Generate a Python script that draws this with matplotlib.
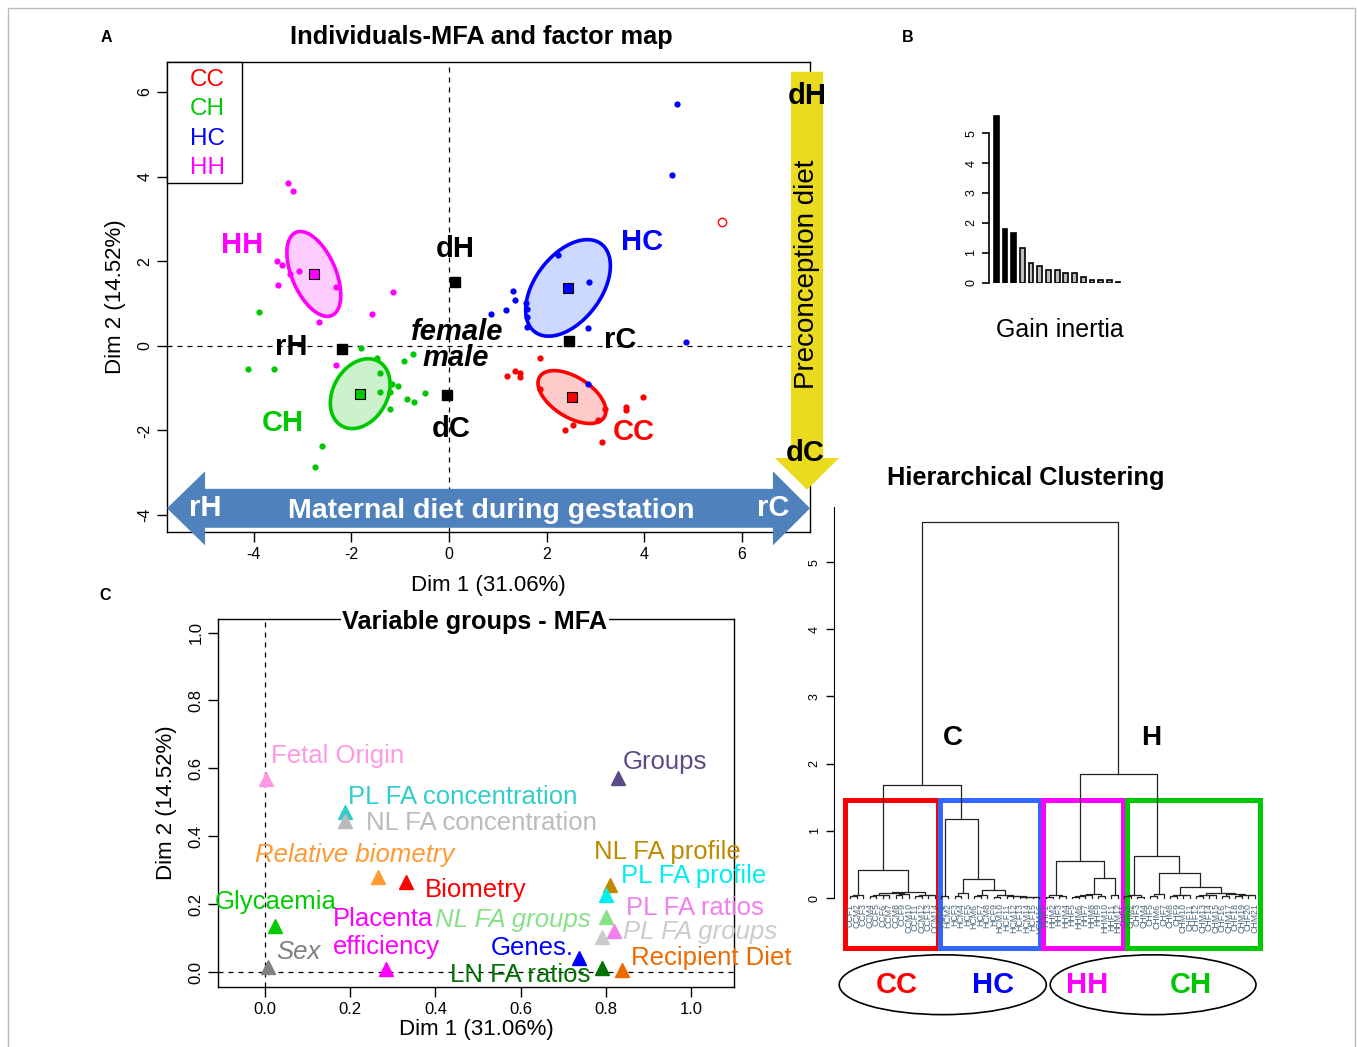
import numpy as np
import matplotlib
matplotlib.use("Agg")
import matplotlib.pyplot as plt
from matplotlib.patches import Polygon, Rectangle, Ellipse

plt.rcParams['font.family'] = ['Liberation Sans', 'DejaVu Sans']
plt.rcParams['axes.unicode_minus'] = False

W, H = 1357, 1047

# ---------------- panel A : individuals ----------------
grp_names = ["CC", "CH", "HC", "HH"]
grp_cols = {"CC": "#FF0000", "CH": "#00C800", "HC": "#0000FF", "HH": "#FF00FF"}
grp_fill = {"CC": "#FFCACA", "CH": "#CCF2CC", "HC": "#CCD8FF", "HH": "#FFCCFF"}

cc_x = [1.86, 1.18, 1.35, 1.45, 1.45, 1.86, 3.19, 3.06, 3.62, 3.62, 3.98, 2.55, 2.38, 3.14]
cc_y = [-0.28, -0.71, -0.60, -0.65, -0.73, -1.03, -1.50, -1.75, -1.44, -1.52, -1.20, -1.88, -2.00, -2.27]
ch_x = [-3.89, -4.12, -3.59, -1.80, -1.47, -0.73, -0.92, -1.42, -1.16, -1.04, -1.42, -1.21,
        -1.20, -0.87, -0.71, -0.50, -2.60, -2.75]
ch_y = [0.80, -0.54, -0.54, -0.06, -0.28, -0.19, -0.35, -0.65, -0.91, -0.95, -1.08, -1.08,
        -1.49, -1.26, -1.32, -1.11, -2.36, -2.86]
hc_x = [4.68, 4.58, 4.85, 2.87, 2.23, 1.31, 1.35, 1.16, 0.87, 1.58, 1.59, 1.59, 1.59, 2.85, 2.85]
hc_y = [5.72, 4.03, 0.08, 1.51, 2.15, 1.30, 1.09, 0.85, 0.75, 1.02, 0.88, 0.68, 0.44, 0.42, -0.91]
hh_x = [-3.30, -3.20, -3.53, -3.42, -3.25, -3.08, -3.51, -2.31, -1.15, -1.58, -2.67, -2.32]
hh_y = [3.85, 3.66, 2.00, 1.91, 1.69, 1.78, 1.44, 1.38, 1.28, 0.75, 0.56, -0.45]
pts = {"CC": (cc_x, cc_y), "CH": (ch_x, ch_y), "HC": (hc_x, hc_y), "HH": (hh_x, hh_y)}

centroid = {"CC": (2.52, -1.21), "CH": (-1.82, -1.13), "HC": (2.44, 1.37), "HH": (-2.77, 1.70)}
# confidence ellipses: major / minor semi-axis vectors (data units)
ell_major = {"CC": (0.66, -0.48), "CH": (0.38, 0.76), "HC": (0.68, 1.04), "HH": (-0.37, 0.98)}
ell_minor = {"CC": (0.22, 0.40), "CH": (0.48, -0.32), "HC": (0.54, -0.47), "HH": (0.41, 0.21)}

outlier_x, outlier_y = [5.59], [2.93]   # hollow red point

sup_names = ["dH", "rH", "rC", "dC"]
sup_x = [0.12, -2.19, 2.46, -0.04]
sup_y = [1.51, -0.07, 0.12, -1.16]

# ---------------- panel B : inertia gain ----------------
inertia = [5.58, 1.80, 1.67, 1.15, 0.65, 0.56, 0.42, 0.42, 0.31, 0.31, 0.20, 0.09, 0.09, 0.09, 0.04]

# ---------------- panel C : variable groups ----------------
var_names = ["Fetal Origin", "Groups", "PL FA concentration", "NL FA concentration",
             "Relative biometry", "Biometry", "Glycaemia", "Sex", "Placenta\nefficiency",
             "NL FA groups", "Genes.", "LN FA ratios", "Recipient Diet", "NL FA profile",
             "PL FA profile", "PL FA ratios", "PL FA groups"]
var_x = [0.003, 0.827, 0.187, 0.187, 0.266, 0.332, 0.024, 0.007, 0.285,
         0.800, 0.737, 0.790, 0.837, 0.810, 0.800, 0.818, 0.790]
var_y = [0.569, 0.571, 0.471, 0.444, 0.279, 0.266, 0.137, 0.015, 0.008,
         0.161, 0.040, 0.013, 0.005, 0.257, 0.227, 0.122, 0.102]
var_cols = ["#FF99E6", "#5C4A86", "#33CCCC", "#BBBBBB", "#FF9933", "#FF0000", "#00CC00",
            "#808080", "#FF00FF", "#88E088", "#0000FF", "#007000", "#EE6A00", "#C08A00",
            "#00EEEE", "#F080F0", "#CCCCCC"]
var_italic = [False, False, False, False, True, False, False, True, False,
              True, False, False, False, False, False, False, True]
# label anchor (left edge, vertical centre)
lab_x = [0.015, 0.840, 0.195, 0.238, -0.024, 0.376, -0.118, 0.026, 0.160,
         0.400, 0.530, 0.433, 0.859, 0.772, 0.835, 0.847, 0.840]
lab_y = [0.635, 0.620, 0.515, 0.440, 0.344, 0.241, 0.206, 0.059, 0.114,
         0.153, 0.070, -0.009, 0.041, 0.353, 0.282, 0.188, 0.118]

# ---------------- panel D : hierarchical clustering ----------------
CC_tree = (0.42,
           (0.05, (0.03, "CCF1", "CCM2"), "CCF3"),
           (0.09,
            (0.07, (0.05, (0.03, "CCM4", "CCF5"), (0.04, "CCF6", "CCM7")),
             (0.06, (0.04, "CCM8", "CCF9"), "CCM10")),
            (0.05, (0.03, "CCF11", "CCM12"), (0.04, "CCF13", "CCM14"))))
HC_tree = (1.17, (0.03, "HCF1", "HCM2"),
           (0.28, (0.08, (0.03, "HCF3", "HCM4"), "HCF5"),
            (0.12, (0.05, (0.03, "HCM6", "HCF7"), "HCM8"),
             (0.04, (0.02, "HCF9", "HCM10"),
              (0.03, "HCF11", (0.025, "HCM12", (0.02, "HCF13",
                                                 (0.02, "HCM14", (0.015, "HCF15", "HCM16")))))))))
HH_tree = (0.55, (0.04, (0.02, "HHF1", "HHM2"), (0.03, "HHF3", "HHM4")),
           (0.30, (0.06, (0.04, (0.03, (0.02, "HHF5", "HHM6"), "HHF7"), "HHM8"),
                   (0.03, "HHF9", "HHM10")),
            (0.05, "HHF11", "HHM12")))
CH_tree = (0.63, (0.05, (0.03, "CHF1", "CHM2"), (0.02, "CHF3", "CHM4")),
           (0.375, (0.06, (0.03, "CHF5", "CHM6"), "CHF7"),
            (0.17, (0.05, (0.03, "CHM8", "CHF9"), (0.04, "CHM10", "CHF11")),
             (0.08, (0.05, (0.03, "CHF12", "CHM13"), (0.04, "CHF14", "CHM15")),
              (0.06, (0.03, "CHF16", "CHM17"),
               (0.05, (0.03, "CHF18", "CHM19"), (0.04, "CHF20", "CHM21")))))))
tree = (5.59, (1.68, CC_tree, HC_tree), (1.85, HH_tree, CH_tree))
box_names = ["CC", "HC", "HH", "CH"]
box_cols = ["#FF0000", "#3366FF", "#FF00FF", "#00C800"]
box_left = [-0.77, 13.78, 29.56, 42.40]
box_right = [13.48, 29.10, 41.80, 62.80]


def px(x, y):
    return x / W, 1 - y / H


def r_axes(ax):
    for s in ax.spines.values():
        s.set_linewidth(1.0)
    ax.tick_params(direction="out", length=7, width=1, colors="black")


fig = plt.figure(figsize=(W / 100, H / 100), dpi=100)
fig.patches.append(Rectangle((8 / W, -0.01), (1355 - 8) / W, 1 - 8 / H + 0.01,
                             transform=fig.transFigure, fill=False, edgecolor="#BBBBBB", lw=1))

# ================= panel A =================
axA = fig.add_axes([167 / W, 1 - 532 / H, (810 - 167) / W, (532 - 62) / H])
r_axes(axA)
axA.set_xlim(-5.78, 7.40)
axA.set_ylim(-4.40, 6.71)
axA.set_xticks([-4, -2, 0, 2, 4, 6])
axA.set_yticks([-4, -2, 0, 2, 4, 6])
axA.tick_params(labelsize=11.5)
for lab in axA.get_yticklabels():
    lab.set_rotation(90)
    lab.set_va("center")
axA.axhline(0, color="black", lw=0.9, ls=(0, (4, 4)), zorder=1)
axA.axvline(0, color="black", lw=0.9, ls=(0, (4, 4)), zorder=1)

t = np.linspace(0, 2 * np.pi, 200)
for g in grp_names:
    cx, cy = centroid[g]
    ex = cx + ell_major[g][0] * np.cos(t) + ell_minor[g][0] * np.sin(t)
    ey = cy + ell_major[g][1] * np.cos(t) + ell_minor[g][1] * np.sin(t)
    axA.fill(ex, ey, facecolor=grp_fill[g], edgecolor=grp_cols[g], lw=2.6, zorder=2)
    axA.plot(pts[g][0], pts[g][1], "o", color=grp_cols[g], ms=4.5, mec="none", zorder=3)
    axA.plot([cx], [cy], "s", color=grp_cols[g], ms=7, mec="black", mew=0.8, zorder=4)
axA.plot(outlier_x, outlier_y, "o", mfc="none", mec="#FF0000", ms=6, mew=1, zorder=3)
axA.plot(sup_x, sup_y, "s", color="black", ms=7, zorder=4)

lab_fs = 21
axA.text(-4.24, 2.38, "HH", color=grp_cols["HH"], fontsize=lab_fs, fontweight="bold", ha="center", va="center")
axA.text(3.95, 2.46, "HC", color=grp_cols["HC"], fontsize=lab_fs, fontweight="bold", ha="center", va="center")
axA.text(-3.40, -1.82, "CH", color=grp_cols["CH"], fontsize=lab_fs, fontweight="bold", ha="center", va="center")
axA.text(3.79, -2.03, "CC", color=grp_cols["CC"], fontsize=lab_fs, fontweight="bold", ha="center", va="center")
sup_lab = {"dH": (0.12, 2.29), "rH": (-3.24, -0.02), "rC": (3.50, 0.14), "dC": (0.04, -1.96)}
for n in sup_names:
    axA.text(*sup_lab[n], n, color="black", fontsize=lab_fs, fontweight="bold", ha="center", va="center", zorder=5)
axA.text(0.16, 0.33, "female", fontsize=lab_fs, fontweight="bold", style="italic", ha="center", va="center", zorder=5)
axA.text(0.14, -0.28, "male", fontsize=lab_fs, fontweight="bold", style="italic", ha="center", va="center", zorder=5)

# legend box (R style: coloured text only)
fig.patches.append(Rectangle(px(167, 183), 75 / W, 121 / H, transform=fig.transFigure,
                             facecolor="white", edgecolor="black", lw=1, zorder=5))
for i, g in enumerate(grp_names):
    fig.text(*px(190, 80 + 29.3 * i), g, color=grp_cols[g], fontsize=17.5,
             ha="left", va="center", zorder=6)

# yellow arrow : preconception diet
xc, hw, hhw, ytop, ybase, ytip = 7.34, 0.33, 0.66, 6.48, -2.65, -3.40
axA.add_patch(Polygon([(xc - hw, ytop), (xc + hw, ytop), (xc + hw, ybase), (xc + hhw, ybase),
                       (xc, ytip), (xc - hhw, ybase), (xc - hw, ybase)],
                      closed=True, facecolor="#EADB1E", edgecolor="none", clip_on=False, zorder=6))
axA.text(xc, 1.68, "Preconception diet", rotation=90, fontsize=20, ha="center", va="center", zorder=7)
axA.text(xc, 5.91, "dH", fontsize=lab_fs, fontweight="bold", ha="center", va="center", zorder=7)
axA.text(7.30, -2.53, "dC", fontsize=lab_fs, fontweight="bold", ha="center", va="center", zorder=7)

# blue double arrow : maternal diet during gestation
xl, xlb, xrb, xr, yc, hs, hh = -5.78, -5.0, 6.64, 7.40, -3.84, 0.46, 0.875
axA.add_patch(Polygon([(xl, yc), (xlb, yc + hh), (xlb, yc + hs), (xrb, yc + hs), (xrb, yc + hh),
                       (xr, yc), (xrb, yc - hh), (xrb, yc - hs), (xlb, yc - hs), (xlb, yc - hh)],
                      closed=True, facecolor="#4F81BD", edgecolor="none", clip_on=False, zorder=6))
axA.text(0.86, -3.90, "Maternal diet during gestation", color="white", fontsize=20.5,
         fontweight="bold", ha="center", va="center", zorder=7)
axA.text(-5.0, -3.83, "rH", color="white", fontsize=lab_fs, fontweight="bold", ha="center", va="center", zorder=7)
axA.text(6.64, -3.83, "rC", color="white", fontsize=lab_fs, fontweight="bold", ha="center", va="center", zorder=7)

axA.set_xlabel("Dim 1 (31.06%)", fontsize=16, labelpad=10)
axA.set_ylabel("Dim 2 (14.52%)", fontsize=16, labelpad=8)
fig.text(*px(481, 37), "Individuals-MFA and factor map", fontsize=18.3, fontweight="bold", ha="center", va="center")

# ================= panel B =================
axB = fig.add_axes([989.3 / W, 1 - 282.7 / H, (1125 - 989.3) / W, (282.7 - 112.3) / H])
axB.set_xlim(-0.8, 14.8)
axB.set_ylim(0, 5.7)
bar_cols = ["black"] * 3 + ["#BEBEBE"] * (len(inertia) - 3)
axB.bar(range(len(inertia)), inertia, width=0.55, color=bar_cols, edgecolor="black", lw=1.2)
for s in ["top", "right", "bottom"]:
    axB.spines[s].set_visible(False)
axB.spines["left"].set_bounds(0, 5)
axB.spines["left"].set_linewidth(1.2)
axB.set_xticks([])
axB.set_yticks(range(6))
axB.tick_params(axis="y", direction="out", length=5, width=1.2, labelsize=9)
for lab in axB.get_yticklabels():
    lab.set_rotation(90)
    lab.set_va("center")
fig.text(*px(1060, 330), "Gain inertia", fontsize=18, ha="center", va="center")

# ================= panel C =================
axC = fig.add_axes([218 / W, 1 - 987 / H, (734 - 218) / W, (987 - 619) / H])
r_axes(axC)
axC.set_xlim(-0.11, 1.10)
axC.set_ylim(-0.044, 1.04)
axC.set_xticks(np.arange(0, 1.01, 0.2))
axC.set_yticks(np.arange(0, 1.01, 0.2))
axC.set_xticklabels(["0.0", "0.2", "0.4", "0.6", "0.8", "1.0"])
axC.set_yticklabels(["0.0", "0.2", "0.4", "0.6", "0.8", "1.0"])
axC.tick_params(labelsize=12)
for lab in axC.get_yticklabels():
    lab.set_rotation(90)
    lab.set_va("center")
axC.axhline(0, color="black", lw=0.9, ls=(0, (4, 4)), zorder=1)
axC.axvline(0, color="black", lw=0.9, ls=(0, (4, 4)), zorder=1)
for i, name in enumerate(var_names):
    axC.plot(var_x[i], var_y[i], "^", color=var_cols[i], ms=10, zorder=3)
    axC.text(lab_x[i], lab_y[i], name, color=var_cols[i], fontsize=18.5,
             style="italic" if var_italic[i] else "normal", ha="left", va="center",
             linespacing=1.2, zorder=4)
axC.set_xlabel("Dim 1 (31.06%)", fontsize=16, labelpad=2)
axC.set_ylabel("Dim 2 (14.52%)", fontsize=16, labelpad=8)
fig.text(*px(475, 622), "Variable groups - MFA", fontsize=18.2, fontweight="bold", ha="center",
         va="center", bbox=dict(facecolor="white", edgecolor="none", pad=1))

# ================= panel D : dendrogram =================
axD = fig.add_axes([834 / W, 1 - 1019 / H, (1265 - 834) / W, (1019 - 507) / H])
axD.set_xlim(-2.45, 63.53)
axD.set_ylim(-1.8, 5.82)
for s in ["top", "right", "bottom"]:
    axD.spines[s].set_visible(False)
axD.spines["left"].set_bounds(0, 5.82)
axD.set_xticks([])
axD.set_yticks(range(6))
axD.tick_params(axis="y", direction="out", length=6, width=1, labelsize=9)
for lab in axD.get_yticklabels():
    lab.set_rotation(90)
    lab.set_va("center")

leaf_counter = [0]


def draw_node(node):
    if isinstance(node, str):
        x = leaf_counter[0]
        leaf_counter[0] += 1
        axD.text(x, -0.08, node, rotation=90, fontsize=6.3, color="#4A6478",
                 ha="center", va="top")
        return x, 0.0
    h, left, right = node
    xl_, hl = draw_node(left)
    xr_, hr = draw_node(right)
    axD.plot([xl_, xl_, xr_, xr_], [hl, h, h, hr], color="#222222", lw=0.9)
    return (xl_ + xr_) / 2, h


draw_node(tree)

for i in range(len(box_names)):
    axD.add_patch(Rectangle((box_left[i], -0.74), box_right[i] - box_left[i], 1.46 + 0.74,
                            fill=False, edgecolor=box_cols[i], lw=3.6, clip_on=False))
axD.add_patch(Ellipse((14.2, -1.29), 31.7, 0.89, fill=False, edgecolor="black", lw=1.2, clip_on=False))
axD.add_patch(Ellipse((46.4, -1.29), 31.5, 0.89, fill=False, edgecolor="black", lw=1.2, clip_on=False))
bottom_lab_x = {"CC": 7.2, "HC": 21.9, "HH": 36.3, "CH": 52.1}
for n in box_names:
    axD.text(bottom_lab_x[n], -1.29, n, color=grp_cols[n], fontsize=21, fontweight="bold",
             ha="center", va="center")
axD.text(15.8, 2.38, "C", fontsize=20, fontweight="bold", ha="center", va="center")
axD.text(46.1, 2.38, "H", fontsize=20, fontweight="bold", ha="center", va="center")
fig.text(*px(1026, 478), "Hierarchical Clustering", fontsize=18.3, fontweight="bold", ha="center", va="center")

# panel letters
for letter, (x, y) in {"A": (106, 37), "B": (908, 37), "C": (105, 596)}.items():
    fig.text(*px(x, y), letter, fontsize=11.5, fontweight="bold", ha="center", va="center")

fig.savefig("out.png", dpi=100)
